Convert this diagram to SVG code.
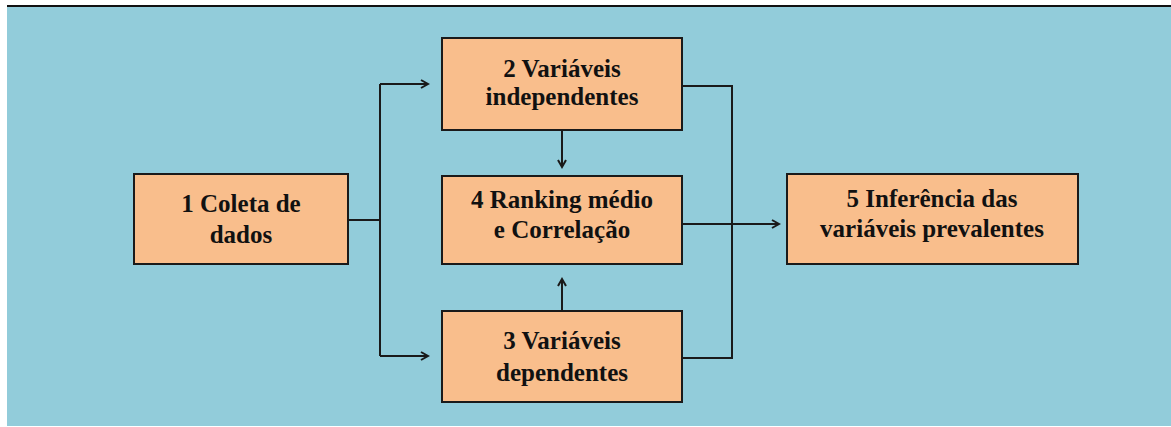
<svg xmlns="http://www.w3.org/2000/svg" width="1171" height="427" viewBox="0 0 1171 427">
<style>
.box{fill:#F9BE8C;stroke:#1a1a1a;stroke-width:2}
.t{font-family:'Liberation Serif','Times New Roman',serif;font-weight:bold;font-size:25px;fill:#111;text-anchor:middle}
.c{fill:none;stroke:#1a1a1a;stroke-width:2}
</style>
<defs>
<marker id="ah" markerWidth="12" markerHeight="12" refX="10" refY="6" orient="auto" markerUnits="userSpaceOnUse">
<polyline points="3,2 10,6 3,10" fill="none" stroke="#1a1a1a" stroke-width="2"/>
</marker>
</defs>
<rect x="0" y="0" width="1171" height="427" fill="#ffffff"/>
<rect x="7" y="6" width="1164" height="420" fill="#92CCDA"/>
<line x1="7" y1="6" x2="1171" y2="6" stroke="#111" stroke-width="2"/>
<g id="connectors">
<polyline class="c" points="348,220 380,220"/>
<polyline class="c" points="380,84 380,356"/>
<polyline class="c" points="380,84 428,84" marker-end="url(#ah)"/>
<polyline class="c" points="380,356 428,356" marker-end="url(#ah)"/>
<polyline class="c" points="562,130 562,167" marker-end="url(#ah)"/>
<polyline class="c" points="562,311 562,279" marker-end="url(#ah)"/>
<polyline class="c" points="682,86 732,86 732,358 682,358"/>
<polyline class="c" points="682,224 779,224" marker-end="url(#ah)"/>
</g>
<g id="n1">
<rect class="box" x="134" y="174" width="214" height="90"/>
<text class="t" x="241" y="212">1 Coleta de</text>
<text class="t" x="241" y="243">dados</text>
</g>
<g id="n2">
<rect class="box" x="442" y="38" width="240" height="92"/>
<text class="t" x="562" y="77">2 Variáveis</text>
<text class="t" x="562" y="105">independentes</text>
</g>
<g id="n4">
<rect class="box" x="442" y="176" width="240" height="88"/>
<text class="t" x="562" y="208">4 Ranking médio</text>
<text class="t" x="562" y="238">e Correlação</text>
</g>
<g id="n3">
<rect class="box" x="442" y="311" width="240" height="91"/>
<text class="t" x="562" y="349">3 Variáveis</text>
<text class="t" x="562" y="381">dependentes</text>
</g>
<g id="n5">
<rect class="box" x="787" y="174" width="291" height="90"/>
<text class="t" x="932" y="207">5 Inferência das</text>
<text class="t" x="932" y="237">variáveis prevalentes</text>
</g>
</svg>
